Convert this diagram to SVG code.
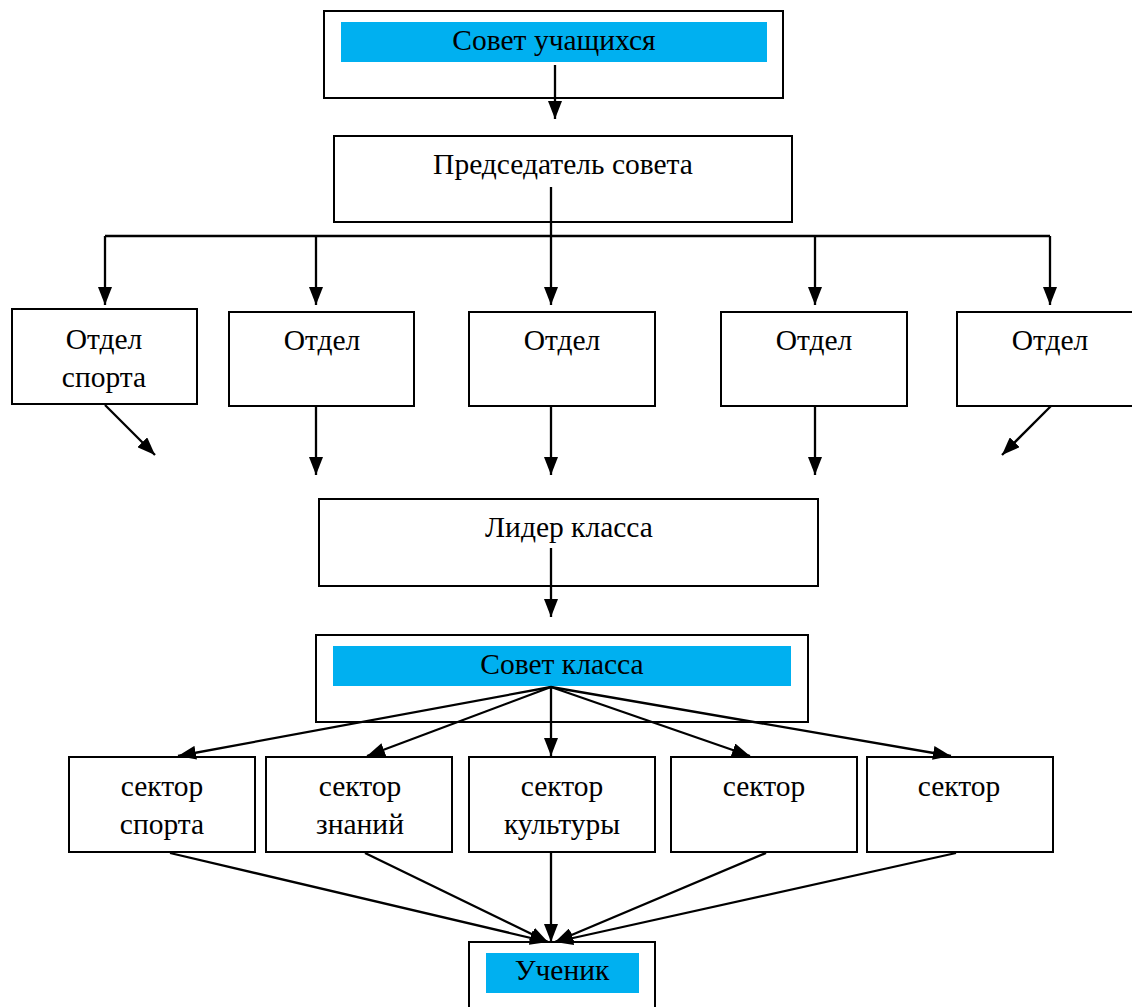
<svg xmlns="http://www.w3.org/2000/svg" width="1132" height="1007" viewBox="0 0 1132 1007">
<style>
.box{fill:#fff;stroke:#000;stroke-width:2}
.hl{fill:#00b0f0;stroke:none}
.t{font-family:"Liberation Serif","DejaVu Serif",serif;font-size:29.5px;fill:#000;text-anchor:middle}
.c{fill:none;stroke:#000;stroke-width:2.3}
.ca{fill:none;stroke:#000;stroke-width:2.3;marker-end:url(#ah)}
</style>
<defs>
<marker id="ah" viewBox="0 0 18 14" refX="18" refY="7" markerWidth="18" markerHeight="14" markerUnits="userSpaceOnUse" orient="auto">
<path d="M0,0 L18,7 L0,14 Z" fill="#000"/>
</marker>
</defs>
<rect width="1132" height="1007" fill="#fff"/>
<g id="sovet-uchashchikhsya">
<rect class="box" x="324" y="11" width="459" height="87"/>
<rect class="hl" x="341" y="22" width="426" height="40"/>
<text class="t" x="554" y="50">Совет учащихся</text>
</g>
<g id="predsedatel">
<rect class="box" x="334" y="136" width="458" height="86"/>
<text class="t" x="563" y="174">Председатель совета</text>
</g>
<g id="otdel-1">
<rect class="box" x="12" y="309" width="185" height="95"/>
<text class="t" x="104" y="349">Отдел</text>
<text class="t" x="104" y="387">спорта</text>
</g>
<g id="otdel-2">
<rect class="box" x="229" y="312" width="185" height="94"/>
<text class="t" x="322" y="350">Отдел</text>
</g>
<g id="otdel-3">
<rect class="box" x="469" y="312" width="186" height="94"/>
<text class="t" x="562" y="350">Отдел</text>
</g>
<g id="otdel-4">
<rect class="box" x="721" y="312" width="186" height="94"/>
<text class="t" x="814" y="350">Отдел</text>
</g>
<g id="otdel-5">
<rect class="box" x="957" y="312" width="185" height="94"/>
<text class="t" x="1050" y="350">Отдел</text>
</g>
<g id="lider-klassa">
<rect class="box" x="319" y="499" width="499" height="87"/>
<text class="t" x="569" y="537">Лидер класса</text>
</g>
<g id="sovet-klassa">
<rect class="box" x="316" y="635" width="492" height="87"/>
<rect class="hl" x="333" y="646" width="458" height="40"/>
<text class="t" x="562" y="674">Совет класса</text>
</g>
<g id="sektor-1">
<rect class="box" x="69" y="757" width="186" height="95"/>
<text class="t" x="162" y="796">сектор</text>
<text class="t" x="162" y="834">спорта</text>
</g>
<g id="sektor-2">
<rect class="box" x="266" y="757" width="186" height="95"/>
<text class="t" x="360" y="796">сектор</text>
<text class="t" x="360" y="834">знаний</text>
</g>
<g id="sektor-3">
<rect class="box" x="469" y="757" width="186" height="95"/>
<text class="t" x="562" y="796">сектор</text>
<text class="t" x="562" y="834">культуры</text>
</g>
<g id="sektor-4">
<rect class="box" x="671" y="757" width="186" height="95"/>
<text class="t" x="764" y="796">сектор</text>
</g>
<g id="sektor-5">
<rect class="box" x="867" y="757" width="186" height="95"/>
<text class="t" x="959" y="796">сектор</text>
</g>
<g id="uchenik">
<rect class="box" x="469" y="942" width="186" height="80"/>
<rect class="hl" x="486" y="953" width="153" height="40"/>
<text class="t" x="562" y="980">Ученик</text>
</g>
<g id="connectors">
<line class="ca" x1="555" y1="65" x2="555" y2="119"/>
<line class="c" x1="551" y1="187" x2="551" y2="236"/>
<line class="c" x1="105" y1="236" x2="1050" y2="236"/>
<line class="ca" x1="105" y1="236" x2="105" y2="305"/>
<line class="ca" x1="316" y1="236" x2="316" y2="305"/>
<line class="ca" x1="551" y1="236" x2="551" y2="305"/>
<line class="ca" x1="815" y1="236" x2="815" y2="305"/>
<line class="ca" x1="1050" y1="236" x2="1050" y2="305"/>
<line class="ca" x1="105" y1="405" x2="155" y2="455"/>
<line class="ca" x1="316" y1="406" x2="316" y2="475"/>
<line class="ca" x1="551" y1="406" x2="551" y2="475"/>
<line class="ca" x1="815" y1="406" x2="815" y2="475"/>
<line class="ca" x1="1051" y1="406" x2="1002" y2="455"/>
<line class="ca" x1="551" y1="548" x2="551" y2="617"/>
<line class="ca" x1="551" y1="687" x2="178" y2="756"/>
<line class="ca" x1="551" y1="687" x2="367" y2="756"/>
<line class="ca" x1="551" y1="687" x2="551" y2="756"/>
<line class="ca" x1="551" y1="687" x2="750" y2="756"/>
<line class="ca" x1="551" y1="687" x2="951" y2="756"/>
<line class="ca" x1="170" y1="853" x2="548" y2="942"/>
<line class="ca" x1="365" y1="853" x2="548" y2="942"/>
<line class="ca" x1="551" y1="853" x2="551" y2="942"/>
<line class="ca" x1="766" y1="853" x2="555" y2="942"/>
<line class="ca" x1="956" y1="853" x2="555" y2="942"/>
</g>
</svg>
